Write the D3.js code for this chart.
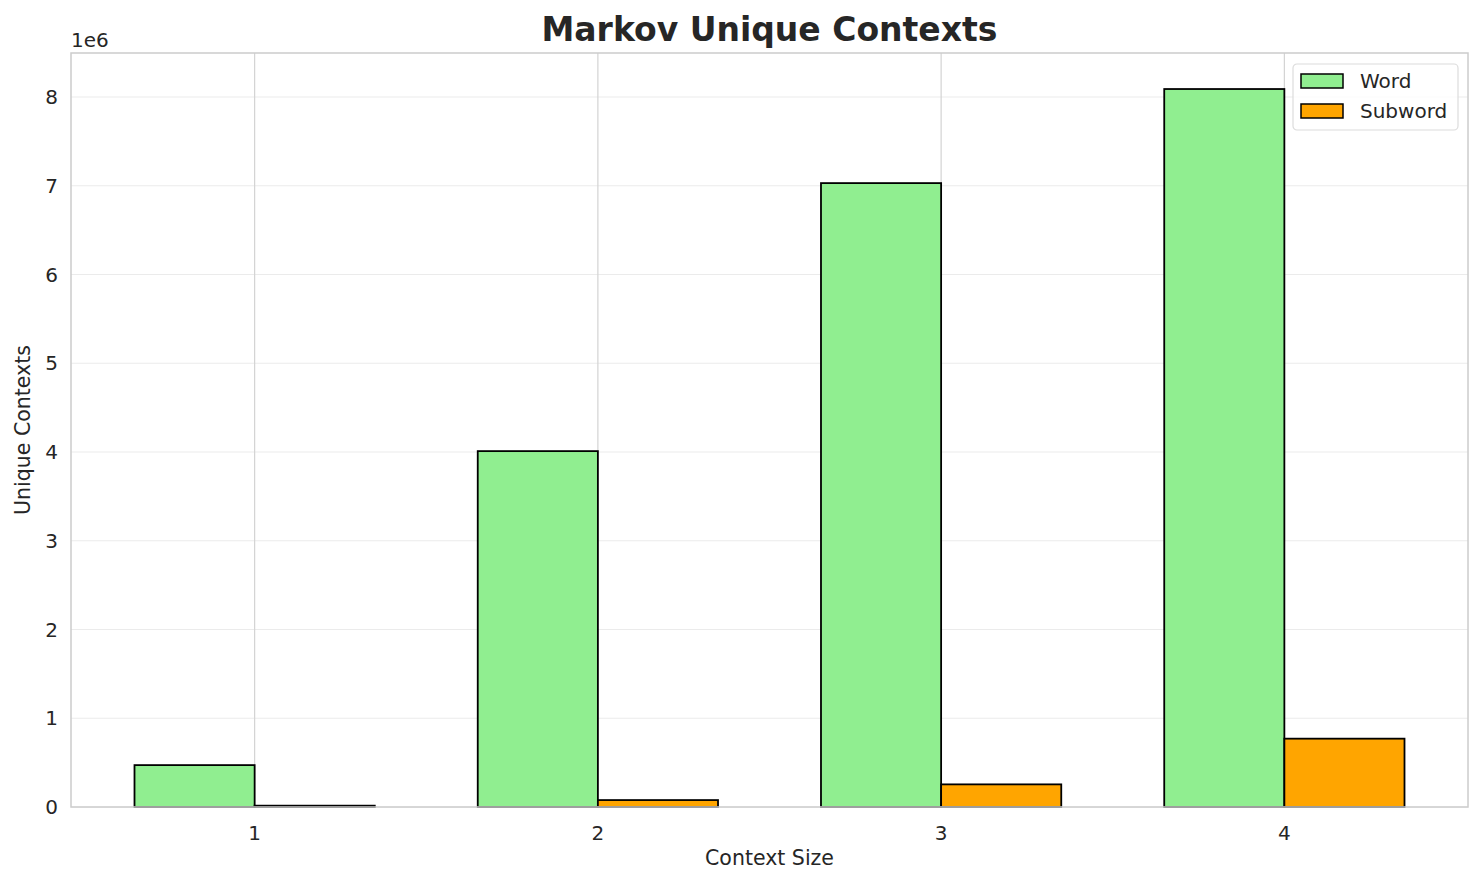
<!DOCTYPE html>
<html>
<head>
<meta charset="utf-8">
<script src="https://cdn.jsdelivr.net/npm/d3@7"></script>
<style>
  body { margin: 0; background: #fff; }
  text { font-family: "DejaVu Sans", sans-serif; fill: #262626; }
</style>
</head>
<body>
<svg id="chart" width="1484" height="885"></svg>
<script>
const contextSizes = [1, 2, 3, 4];
const wordContexts = [472000, 4010000, 7030000, 8090000];
const subwordContexts = [15000, 78000, 255000, 770000];
const yTicks = [0, 1, 2, 3, 4, 5, 6, 7, 8];
const seriesNames = ["Word", "Subword"];
const seriesColors = ["#90ee90", "#ffa500"];

const width = 1484, height = 885;
const margin = { left: 71, right: 16, top: 53, bottom: 78 };
const svg = d3.select("#chart");

const x = d3.scaleLinear()
    .domain([-0.535, contextSizes.length - 1 + 0.535])
    .range([margin.left, width - margin.right]);
const y = d3.scaleLinear()
    .domain([0, 8.496e6])
    .range([height - margin.bottom, margin.top]);
const barW = x(0.35) - x(0);

const g = svg.append("g");

// grid
g.append("g").selectAll("line")
    .data(yTicks)
    .join("line")
    .attr("x1", margin.left).attr("x2", width - margin.right)
    .attr("y1", d => y(d * 1e6)).attr("y2", d => y(d * 1e6))
    .attr("stroke", "#ebebeb").attr("stroke-width", 1.2);
g.append("g").selectAll("line")
    .data(contextSizes)
    .join("line")
    .attr("x1", (d, i) => x(i)).attr("x2", (d, i) => x(i))
    .attr("y1", margin.top).attr("y2", height - margin.bottom)
    .attr("stroke", "#d3d3d3").attr("stroke-width", 1.2);

// bars
const series = [wordContexts, subwordContexts];
series.forEach((vals, s) => {
    g.append("g").selectAll("rect")
        .data(vals)
        .join("rect")
        .attr("x", (d, i) => s === 0 ? x(i) - barW : x(i))
        .attr("y", d => y(d))
        .attr("width", barW)
        .attr("height", d => y(0) - y(d))
        .attr("fill", seriesColors[s])
        .attr("stroke", "#000")
        .attr("stroke-width", 1.8);
});

// frame
g.append("rect")
    .attr("x", margin.left).attr("y", margin.top)
    .attr("width", width - margin.left - margin.right)
    .attr("height", height - margin.top - margin.bottom)
    .attr("fill", "none").attr("stroke", "#cccccc").attr("stroke-width", 1.5);

// tick labels
g.append("g").selectAll("text")
    .data(yTicks)
    .join("text")
    .attr("x", margin.left - 13)
    .attr("y", d => y(d * 1e6))
    .attr("dy", "0.35em")
    .attr("text-anchor", "end")
    .attr("font-size", 20)
    .text(d => d);
g.append("g").selectAll("text")
    .data(contextSizes)
    .join("text")
    .attr("x", (d, i) => x(i))
    .attr("y", height - margin.bottom + 33)
    .attr("text-anchor", "middle")
    .attr("font-size", 20)
    .text(d => d);

svg.append("text")
    .attr("x", margin.left).attr("y", 47)
    .attr("font-size", 20)
    .text("1e6");

// labels
svg.append("text")
    .attr("x", (margin.left + width - margin.right) / 2).attr("y", 41)
    .attr("text-anchor", "middle")
    .attr("font-size", 33).attr("font-weight", "bold")
    .text("Markov Unique Contexts");
svg.append("text")
    .attr("x", (margin.left + width - margin.right) / 2).attr("y", 865)
    .attr("text-anchor", "middle")
    .attr("font-size", 20.5)
    .text("Context Size");
svg.append("text")
    .attr("transform", `translate(30,${(margin.top + height - margin.bottom) / 2}) rotate(-90)`)
    .attr("text-anchor", "middle")
    .attr("font-size", 20.5)
    .text("Unique Contexts");

// legend
const lg = svg.append("g").attr("transform", "translate(1293,64)");
lg.append("rect")
    .attr("width", 165).attr("height", 66).attr("rx", 4)
    .attr("fill", "#fff").attr("fill-opacity", 0.8)
    .attr("stroke", "#dcdcdc").attr("stroke-width", 1.2);
seriesNames.forEach((name, i) => {
    lg.append("rect")
        .attr("x", 8).attr("y", 10 + i * 30)
        .attr("width", 42).attr("height", 14)
        .attr("fill", seriesColors[i])
        .attr("stroke", "#000").attr("stroke-width", 1.5);
    lg.append("text")
        .attr("x", 67).attr("y", 17 + i * 30)
        .attr("dy", "0.35em")
        .attr("font-size", 20)
        .text(name);
});
</script>
</body>
</html>
